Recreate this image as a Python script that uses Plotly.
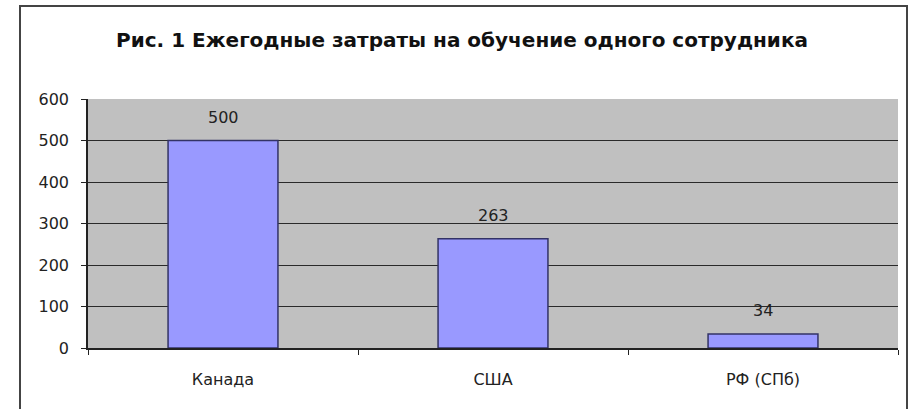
import plotly.graph_objects as go

categories = ["Канада", "США", "РФ (СПб)"]
values = [500, 263, 34]
y_ticks = [0, 100, 200, 300, 400, 500, 600]
title_text = "Рис. 1 Ежегодные затраты на обучение одного сотрудника"

W, H = 914, 409
L, R, T, B = 88, 898, 99, 348  # plot area in pixels

FONT = "DejaVu Sans"

def px_x(p):
    return (p - L) / (R - L)

def px_y(p):
    return (B - p) / (B - T)

fig = go.Figure()
fig.add_trace(go.Bar(
    x=categories, y=values,
    width=0.407,
    marker=dict(color="#9999FF", line=dict(color="#333366", width=1.5)),
    hoverinfo="skip",
))

for c, v in zip(categories, values):
    fig.add_annotation(x=c, y=v, text=str(v), showarrow=False,
                       yanchor="middle", yshift=23,
                       font=dict(family=FONT, size=16, color="#222"))

fig.add_shape(type="rect", xref="paper", yref="paper",
              x0=px_x(20), x1=px_x(907), y0=px_y(6), y1=px_y(420),
              line=dict(color="#444", width=2), fillcolor="rgba(0,0,0,0)", layer="below")

fig.update_layout(
    width=W, height=H,
    margin=dict(l=L, r=W - R, t=T, b=H - B),
    paper_bgcolor="white",
    plot_bgcolor="#C0C0C0",
    showlegend=False,
    title=dict(text="<b>" + title_text + "</b>", x=462 / W, xref="container", xanchor="center",
               y=1 - 40 / H, yref="container", yanchor="middle",
               font=dict(family=FONT, size=20, color="#111")),
    bargap=0.593,
)
fig.update_xaxes(
    type="category", range=[-0.5, 2.5],
    showline=True, linecolor="#222", linewidth=1.5,
    ticks="outside", tickson="boundaries", ticklen=5, tickcolor="#222",
    ticklabelstandoff=16,
    showgrid=False,
    tickfont=dict(family=FONT, size=16, color="#222"),
)
fig.update_yaxes(
    range=[0, 600], tickvals=y_ticks,
    showline=True, linecolor="#222", linewidth=1.5,
    ticks="outside", ticklen=5, tickcolor="#222",
    ticklabelstandoff=9,
    showgrid=True, gridcolor="#2a2a2a", gridwidth=1.4,
    zeroline=False,
    tickfont=dict(family=FONT, size=16, color="#222"),
)

fig.write_html("out.html", config={"displayModeBar": False},
               post_script="document.body.style.margin='0';")
